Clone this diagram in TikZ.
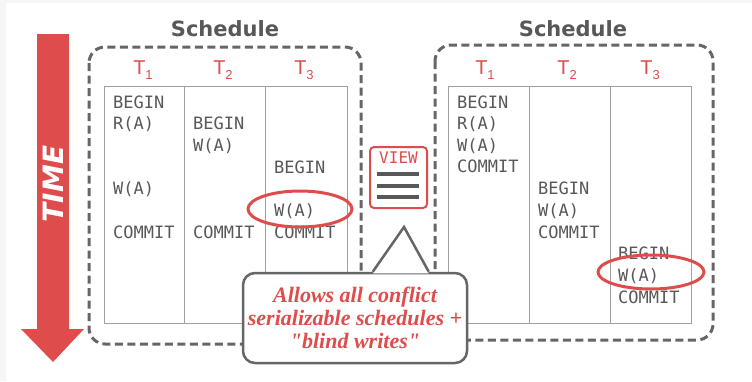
\documentclass[tikz,border=0pt]{standalone}
\usepackage{fontspec}
\setmainfont{Liberation Serif}
\setsansfont{DejaVu Sans}
\setmonofont{DejaVu Sans Mono}
\newfontfamily\labelfont{Liberation Sans}
\usetikzlibrary{shapes.geometric,calc}

\definecolor{dbred}{RGB}{222,76,76}
\definecolor{txtgray}{RGB}{88,88,88}
\definecolor{dashgray}{RGB}{102,102,102}
\definecolor{rulegray}{RGB}{160,160,160}
\definecolor{pagegray}{RGB}{246,246,246}

\tikzset{
  op/.style={font=\fontsize{17}{17}\selectfont\ttfamily, text=txtgray, anchor=west,
             inner sep=0pt, text height=12.4pt, text depth=0pt},
  schedbox/.style={draw=dashgray, line width=3pt, dash pattern=on 8pt off 4.5pt,
                   rounded corners=16pt},
  schedtitle/.style={font=\fontsize{21}{21}\selectfont\sffamily\bfseries, text=txtgray},
  txn/.style={font=\fontsize{20}{20}\selectfont\labelfont, text=dbred, inner sep=0pt},
  grid/.style={draw=rulegray, line width=1pt},
  hilite/.style={draw=dbred, line width=3pt, ellipse},
  notebox/.style={draw=dashgray, line width=2.5pt, fill=white, rounded corners=12pt,
                  align=center, text=dbred,
                  font=\fontsize{22}{23}\selectfont\bfseries\itshape},
}

\newcommand{\tsub}[1]{T\raisebox{-5pt}{\fontsize{13}{13}\selectfont #1}}

\begin{document}
\begin{tikzpicture}[x=1pt,y=-1pt]
  % page
  \fill[pagegray] (0,0) rectangle (752,381);
  \fill[white] (6,3) rectangle (752,381);
  \useasboundingbox (0,0) rectangle (752,381);

  % time arrow
  \fill[dbred] (37,34) -- (69,34) -- (69,329) -- (84,329) -- (53,362)
               -- (21,329) -- (37,329) -- cycle;
  \node[rotate=90, text=white, font=\fontsize{28}{28}\selectfont\sffamily\bfseries\itshape]
       (time) at (53,184) {TIME};

  % ---------------- left schedule ----------------
  \draw[schedbox] (89,47) rectangle (361,344);
  \node[schedtitle] (ltitle) at (225,29) {Schedule};
  \draw[grid] (104,86) rectangle (347,323);
  \draw[grid] (184,86) -- (184,323);
  \draw[grid] (265,86) -- (265,323);
  \node[txn] (la) at (143,70) {\tsub{1}};
  \node[txn] (lb) at (223,70) {\tsub{2}};
  \node[txn] (lc) at (304,70) {\tsub{3}};

  \node[op] (l1a) at (113,102)   {BEGIN};
  \node[op] (l1b) at (113,123.7) {R(A)};
  \node[op] (l1c) at (113,188.5) {W(A)};
  \node[op] (l1d) at (113,232)   {COMMIT};
  \node[op] (l2a) at (193,123.7) {BEGIN};
  \node[op] (l2b) at (193,145.4) {W(A)};
  \node[op] (l2c) at (193,232)   {COMMIT};
  \node[op] (l3a) at (274,167)   {BEGIN};
  \node[op] (l3b) at (274,210.3) {W(A)};
  \node[op] (l3c) at (274,232)   {COMMIT};

  \node[hilite, minimum width=104pt, minimum height=36pt] (lmark) at (300,209) {};

  % ---------------- right schedule ----------------
  \draw[schedbox] (435,45) rectangle (713,340);
  \node[schedtitle] (rtitle) at (573,29) {Schedule};
  \draw[grid] (448,86) rectangle (691,323);
  \draw[grid] (529,86) -- (529,323);
  \draw[grid] (610,86) -- (610,323);
  \node[txn] (ra) at (485,70) {\tsub{1}};
  \node[txn] (rb) at (567,70) {\tsub{2}};
  \node[txn] (rc) at (650,70) {\tsub{3}};

  \node[op] (r1a) at (457,102)   {BEGIN};
  \node[op] (r1b) at (457,123.7) {R(A)};
  \node[op] (r1c) at (457,145.4) {W(A)};
  \node[op] (r1d) at (457,166.5) {COMMIT};
  \node[op] (r2a) at (538,188.5) {BEGIN};
  \node[op] (r2b) at (538,210.3) {W(A)};
  \node[op] (r2c) at (538,232)   {COMMIT};
  \node[op] (r3a) at (618,253.5) {BEGIN};
  \node[op] (r3b) at (618,275.5) {W(A)};
  \node[op] (r3c) at (618,297)   {COMMIT};

  \node[hilite, minimum width=106pt, minimum height=34pt] (rmark) at (651,272) {};

  % ---------------- view icon ----------------
  \node[draw=dbred, line width=2pt, fill=white, rounded corners=4pt,
        minimum width=57pt, minimum height=61pt, inner sep=0pt] (view) at (398.5,177.5) {};
  \node[text=dbred, font=\fontsize{16}{16}\selectfont\ttfamily, inner sep=0pt]
       (viewlbl) at ($(view.north)+(0,11.5)$) {VIEW};
  \foreach \dy in {28,40,51}
    \draw[txtgray, line width=4pt] ($(view.north west)+(8,\dy)$) -- ($(view.north east)+(-9,\dy)$);

  % ---------------- callout ----------------
  \node[notebox, minimum width=224pt, minimum height=90pt, inner sep=0pt] (note) at (355,318)
       {Allows all conflict\\serializable schedules +\\\textquotedbl blind writes\textquotedbl};
  \coordinate (tip) at (404,227);
  \coordinate (baseL) at ($(note.north west)+(131,0)$);
  \coordinate (baseR) at ($(note.north west)+(187,0)$);
  \fill[white] ($(baseL)+(0,1.5)$) -- (tip) -- ($(baseR)+(0,1.5)$) -- cycle;
  \draw[dashgray, line width=2.5pt, line join=miter] (baseL) -- (tip) -- (baseR);
\end{tikzpicture}
\end{document}
